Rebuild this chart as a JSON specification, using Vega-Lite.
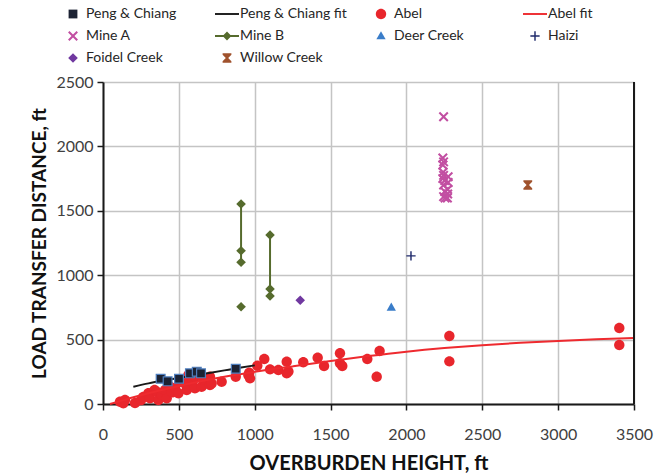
{
  "$schema": "https://vega.github.io/schema/vega-lite/v6.json",
  "width": 531,
  "height": 322,
  "autosize": "none",
  "padding": {"left": 103, "top": 82, "right": 29, "bottom": 69},
  "background": "white",
  "config": {
    "view": {"stroke": null},
    "font": "Lato",
    "axis": {
      "grid": true,
      "gridColor": "#c4c4c4",
      "gridWidth": 1.5,
      "domainColor": "#1a1a1a",
      "domainWidth": 2,
      "tickColor": "#1a1a1a",
      "tickWidth": 1.5,
      "tickSize": 6,
      "labelFont": "Lato",
      "labelFontSize": 16,
      "labelColor": "#404040",
      "titleFont": "Lato",
      "titleFontSize": 19,
      "titleFontWeight": "bold",
      "titleColor": "#111111",
      "labelFlush": false,
      "labelOverlap": false,
      "format": "d"
    }
  },
  "datasets": {
    "pts": [
      {"series": "Abel", "x": 112, "y": 18},
      {"series": "Abel", "x": 134, "y": 5},
      {"series": "Abel", "x": 145, "y": 31},
      {"series": "Abel", "x": 211, "y": 8},
      {"series": "Abel", "x": 250, "y": 30},
      {"series": "Abel", "x": 265, "y": 55},
      {"series": "Abel", "x": 299, "y": 83},
      {"series": "Abel", "x": 310, "y": 44},
      {"series": "Abel", "x": 340, "y": 110},
      {"series": "Abel", "x": 354, "y": 96},
      {"series": "Abel", "x": 365, "y": 31},
      {"series": "Abel", "x": 387, "y": 70},
      {"series": "Abel", "x": 409, "y": 109},
      {"series": "Abel", "x": 420, "y": 44},
      {"series": "Abel", "x": 442, "y": 134},
      {"series": "Abel", "x": 455, "y": 90},
      {"series": "Abel", "x": 475, "y": 122},
      {"series": "Abel", "x": 497, "y": 83},
      {"series": "Abel", "x": 508, "y": 173},
      {"series": "Abel", "x": 540, "y": 160},
      {"series": "Abel", "x": 552, "y": 109},
      {"series": "Abel", "x": 563, "y": 225},
      {"series": "Abel", "x": 590, "y": 170},
      {"series": "Abel", "x": 606, "y": 122},
      {"series": "Abel", "x": 606, "y": 212},
      {"series": "Abel", "x": 650, "y": 134},
      {"series": "Abel", "x": 660, "y": 190},
      {"series": "Abel", "x": 705, "y": 212},
      {"series": "Abel", "x": 705, "y": 148},
      {"series": "Abel", "x": 716, "y": 160},
      {"series": "Abel", "x": 782, "y": 173},
      {"series": "Abel", "x": 875, "y": 212},
      {"series": "Abel", "x": 958, "y": 225},
      {"series": "Abel", "x": 964, "y": 243},
      {"series": "Abel", "x": 969, "y": 199},
      {"series": "Abel", "x": 1017, "y": 297},
      {"series": "Abel", "x": 1063, "y": 349},
      {"series": "Abel", "x": 1101, "y": 269},
      {"series": "Abel", "x": 1156, "y": 264},
      {"series": "Abel", "x": 1211, "y": 328},
      {"series": "Abel", "x": 1211, "y": 238},
      {"series": "Abel", "x": 1222, "y": 252},
      {"series": "Abel", "x": 1320, "y": 324},
      {"series": "Abel", "x": 1415, "y": 360},
      {"series": "Abel", "x": 1457, "y": 295},
      {"series": "Abel", "x": 1562, "y": 394},
      {"series": "Abel", "x": 1562, "y": 316},
      {"series": "Abel", "x": 1577, "y": 295},
      {"series": "Abel", "x": 1742, "y": 349},
      {"series": "Abel", "x": 1823, "y": 412},
      {"series": "Abel", "x": 1804, "y": 212},
      {"series": "Abel", "x": 2283, "y": 528},
      {"series": "Abel", "x": 2283, "y": 331},
      {"series": "Abel", "x": 3403, "y": 590},
      {"series": "Abel", "x": 3403, "y": 458},
      {"series": "Mine A", "x": 2245, "y": 2230},
      {"series": "Mine A", "x": 2240, "y": 1910},
      {"series": "Mine A", "x": 2245, "y": 1880},
      {"series": "Mine A", "x": 2240, "y": 1855},
      {"series": "Mine A", "x": 2242, "y": 1800},
      {"series": "Mine A", "x": 2245, "y": 1775},
      {"series": "Mine A", "x": 2240, "y": 1750},
      {"series": "Mine A", "x": 2252, "y": 1735},
      {"series": "Mine A", "x": 2275, "y": 1765},
      {"series": "Mine A", "x": 2275, "y": 1720},
      {"series": "Mine A", "x": 2245, "y": 1700},
      {"series": "Mine A", "x": 2252, "y": 1650},
      {"series": "Mine A", "x": 2272, "y": 1665},
      {"series": "Mine A", "x": 2272, "y": 1630},
      {"series": "Mine A", "x": 2245, "y": 1610},
      {"series": "Mine A", "x": 2270, "y": 1600},
      {"series": "Mine A", "x": 2255, "y": 1600},
      {"series": "Deer Creek", "x": 1900, "y": 750},
      {"series": "Haizi", "x": 2030, "y": 1150},
      {"series": "Foidel Creek", "x": 1300, "y": 805},
      {"series": "Willow Creek", "x": 2800, "y": 1700}
    ],
    "lines": [
      {"series": "Abel fit", "x": 46, "y": 0},
      {"series": "Abel fit", "x": 100, "y": 18},
      {"series": "Abel fit", "x": 200, "y": 52},
      {"series": "Abel fit", "x": 300, "y": 83},
      {"series": "Abel fit", "x": 400, "y": 112},
      {"series": "Abel fit", "x": 500, "y": 140},
      {"series": "Abel fit", "x": 600, "y": 166},
      {"series": "Abel fit", "x": 700, "y": 190},
      {"series": "Abel fit", "x": 800, "y": 212},
      {"series": "Abel fit", "x": 1000, "y": 250},
      {"series": "Abel fit", "x": 1250, "y": 292},
      {"series": "Abel fit", "x": 1500, "y": 333},
      {"series": "Abel fit", "x": 1750, "y": 372},
      {"series": "Abel fit", "x": 2000, "y": 406},
      {"series": "Abel fit", "x": 2250, "y": 434},
      {"series": "Abel fit", "x": 2500, "y": 457},
      {"series": "Abel fit", "x": 2750, "y": 475},
      {"series": "Abel fit", "x": 3000, "y": 490},
      {"series": "Abel fit", "x": 3250, "y": 502},
      {"series": "Abel fit", "x": 3500, "y": 512},
      {"series": "Peng & Chiang fit", "x": 200, "y": 134},
      {"series": "Peng & Chiang fit", "x": 300, "y": 160},
      {"series": "Peng & Chiang fit", "x": 400, "y": 182},
      {"series": "Peng & Chiang fit", "x": 500, "y": 202},
      {"series": "Peng & Chiang fit", "x": 600, "y": 221},
      {"series": "Peng & Chiang fit", "x": 700, "y": 241},
      {"series": "Peng & Chiang fit", "x": 800, "y": 261},
      {"series": "Peng & Chiang fit", "x": 900, "y": 281},
      {"series": "Peng & Chiang fit", "x": 1000, "y": 300},
      {"series": "Mine B 1", "x": 910, "y": 1553},
      {"series": "Mine B 1", "x": 910, "y": 1100},
      {"series": "Mine B 2", "x": 1101, "y": 1312},
      {"series": "Mine B 2", "x": 1101, "y": 838}
    ],
    "pc": [
      {"x": 380, "y": 196},
      {"x": 426, "y": 176},
      {"x": 501, "y": 196},
      {"x": 573, "y": 238},
      {"x": 618, "y": 251},
      {"x": 646, "y": 238},
      {"x": 875, "y": 274}
    ],
    "mineb": [
      {"x": 910, "y": 1553},
      {"x": 910, "y": 1190},
      {"x": 910, "y": 1100},
      {"x": 910, "y": 755},
      {"x": 1101, "y": 1312},
      {"x": 1101, "y": 893},
      {"x": 1101, "y": 838}
    ],
    "edge": [{"x": 3500}]
  },
  "layer": [
    {
      "data": {"name": "pts"},
      "mark": {"type": "point", "filled": true, "size": 256, "strokeWidth": 0, "opacity": 1},
      "encoding": {
        "x": {
          "field": "x", "type": "quantitative",
          "scale": {"domain": [0, 3500], "nice": false, "zero": false},
          "axis": {"title": "OVERBURDEN HEIGHT, ft", "titleFontSize": 20, "values": [0, 500, 1000, 1500, 2000, 2500, 3000, 3500], "labelPadding": 16, "titlePadding": 11}
        },
        "y": {
          "field": "y", "type": "quantitative",
          "scale": {"domain": [0, 2500], "nice": false},
          "axis": {"title": "LOAD TRANSFER DISTANCE, ft", "values": [0, 500, 1000, 1500, 2000, 2500], "labelPadding": 4, "titlePadding": 6}
        },
        "color": {
          "field": "series", "type": "nominal",
          "scale": {
            "domain": ["Peng & Chiang", "Peng & Chiang fit", "Abel", "Abel fit", "Mine A", "Mine B", "Deer Creek", "Haizi", "Foidel Creek", "Willow Creek"],
            "range": ["#1c2233", "#1a1a1a", "#e8262c", "#ee2a2f", "#c24fa2", "#566b2d", "#3a7dc9", "#1f2a6b", "#7038a0", "#a0522d"]
          },
          "legend": {
            "title": null, "orient": "none", "legendX": -38, "legendY": -76, "direction": "horizontal",
            "values": ["Peng & Chiang", "Peng & Chiang fit", "Abel", "Abel fit", "Mine A", "Mine B", "Deer Creek", "Haizi", "Foidel Creek", "Willow Creek"],
            "columns": 4, "gridAlign": "all", "symbolSize": 256, "symbolStrokeWidth": 0,
            "labelFont": "Lato", "labelFontSize": 14, "labelColor": "#262626",
            "labelOffset": 5, "columnPadding": 22, "rowPadding": 7, "labelLimit": 200, "symbolOpacity": 1
          }
        },
        "shape": {
          "field": "series", "type": "nominal",
          "scale": {
            "domain": ["Peng & Chiang", "Peng & Chiang fit", "Abel", "Abel fit", "Mine A", "Mine B", "Deer Creek", "Haizi", "Foidel Creek", "Willow Creek"],
            "range": [
              "M-0.55,-0.55H0.55V0.55H-0.55Z",
              "M-1.5,-0.12H1.5V0.12H-1.5Z",
              "M-0.65,0A0.65,0.65 0 1,0 0.65,0A0.65,0.65 0 1,0 -0.65,0Z",
              "M-1.5,-0.12H1.5V0.12H-1.5Z",
              "M-0.62,-0.44L-0.44,-0.62L0,-0.18L0.44,-0.62L0.62,-0.44L0.18,0L0.62,0.44L0.44,0.62L0,0.18L-0.44,0.62L-0.62,0.44L-0.18,0Z",
              "M-1.5,-0.12H1.5V0.12H-1.5ZM0,-0.55L0.55,0L0,0.55L-0.55,0Z",
              "M0,-0.6L0.58,0.42H-0.58Z",
              "M-0.09,-0.58H0.09V-0.09H0.58V0.09H0.09V0.58H-0.09V0.09H-0.58V-0.09H-0.09Z",
              "M0,-0.6L0.6,0L0,0.6L-0.6,0Z",
              "M-0.55,-0.6H0.55V-0.4L0.15,0L0.55,0.4V0.6H-0.55V0.4L-0.15,0L-0.55,-0.4Z"
            ]
          },
          "legend": {
            "title": null, "orient": "none", "legendX": -38, "legendY": -76, "direction": "horizontal",
            "values": ["Peng & Chiang", "Peng & Chiang fit", "Abel", "Abel fit", "Mine A", "Mine B", "Deer Creek", "Haizi", "Foidel Creek", "Willow Creek"],
            "columns": 4, "gridAlign": "all", "symbolSize": 256, "symbolStrokeWidth": 0,
            "labelFont": "Lato", "labelFontSize": 14, "labelColor": "#262626",
            "labelOffset": 5, "columnPadding": 22, "rowPadding": 7, "labelLimit": 200, "symbolOpacity": 1
          }
        }
      }
    },
    {
      "data": {"name": "lines"},
      "mark": {"type": "line", "strokeWidth": 2, "interpolate": "monotone"},
      "encoding": {
        "x": {"field": "x", "type": "quantitative"},
        "y": {"field": "y", "type": "quantitative"},
        "stroke": {
          "field": "series", "type": "nominal",
          "scale": {"domain": ["Abel fit", "Peng & Chiang fit", "Mine B 1", "Mine B 2"], "range": ["#ee2a2f", "#1a1a1a", "#566b2d", "#566b2d"]},
          "legend": null
        }
      }
    },
    {
      "data": {"name": "pc"},
      "mark": {"type": "point", "filled": true, "size": 256, "shape": "M-0.55,-0.55H0.55V0.55H-0.55Z", "fill": "#1c2233", "stroke": "#4f7fbf", "strokeWidth": 1.2, "opacity": 1},
      "encoding": {
        "x": {"field": "x", "type": "quantitative"},
        "y": {"field": "y", "type": "quantitative"}
      }
    },
    {
      "data": {"name": "mineb"},
      "mark": {"type": "point", "filled": true, "size": 256, "shape": "M0,-0.6L0.6,0L0,0.6L-0.6,0Z", "fill": "#566b2d", "strokeWidth": 0, "opacity": 1},
      "encoding": {
        "x": {"field": "x", "type": "quantitative"},
        "y": {"field": "y", "type": "quantitative"}
      }
    },
    {
      "data": {"name": "edge"},
      "mark": {"type": "rule", "color": "#1a1a1a", "strokeWidth": 2},
      "encoding": {
        "x": {"field": "x", "type": "quantitative"}
      }
    }
  ]
}
